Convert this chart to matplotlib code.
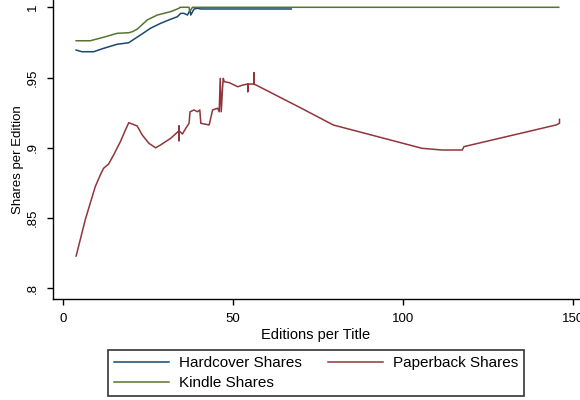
import matplotlib
matplotlib.use("Agg")
import matplotlib.pyplot as plt

plt.rcParams["font.family"] = ["Liberation Sans", "DejaVu Sans"]

# Hardcover shares per edition vs editions per title
hard_x = [3.93, 5.62, 9.05, 12.0, 15.97, 19.4, 20.88, 22.86, 25.81, 28.77,
          31.72, 33.71, 34.68, 35.66, 36.66, 37.43, 37.64, 38.62, 39.62, 40.6, 67.2]
hard_y = [0.9696, 0.9684, 0.9684, 0.9708, 0.9737, 0.9748, 0.9772, 0.9803, 0.9851, 0.9886,
          0.9915, 0.9933, 0.9957, 0.9957, 0.9945, 0.9981, 0.9945, 0.9988, 0.9993, 0.9988, 0.9988]

# Kindle shares per edition
kindle_x = [3.93, 8.07, 12.0, 15.97, 19.4, 20.4, 21.88, 24.84, 27.79, 31.72,
            34.18, 34.48, 37.14, 37.34, 38.14, 145.86]
kindle_y = [0.9762, 0.9762, 0.9787, 0.9815, 0.9819, 0.9826, 0.9844, 0.9910, 0.9945, 0.9969,
            0.9993, 1.0, 1.0, 0.9969, 1.0, 1.0]

# Paperback shares per edition
paper_x = [3.93, 5.12, 6.59, 8.07, 9.55, 11.03, 12.0, 13.48, 14.96, 16.94,
           18.42, 19.4, 20.4, 21.88, 23.36, 25.31, 27.29, 28.77, 31.72, 34.18,
           34.18, 34.18, 34.18, 35.19, 36.16, 37.14, 37.43, 38.62, 39.62, 40.3,
           40.6, 43.05, 44.06, 45.54, 46.0, 46.3, 46.6, 47.01, 47.2, 47.49,
           48.97, 51.45, 52.93, 54.41, 54.41, 54.41, 56.18, 56.18, 56.18, 56.86,
           70.17, 79.54, 105.65, 111.56, 117.48, 117.98, 145.06, 146.07, 146.07]
paper_y = [0.8231, 0.8345, 0.8487, 0.8606, 0.8724, 0.8807, 0.8855, 0.8885, 0.8950, 0.9044,
           0.9127, 0.9179, 0.9170, 0.9156, 0.9092, 0.9033, 0.9001, 0.9021, 0.9068, 0.9122,
           0.9156, 0.9051, 0.9122, 0.9099, 0.9139, 0.9175, 0.9257, 0.9270, 0.9257, 0.9270,
           0.9175, 0.9163, 0.9270, 0.9282, 0.9257, 0.9495, 0.9257, 0.9435, 0.9495, 0.9471,
           0.9464, 0.9435, 0.9447, 0.9454, 0.9400, 0.9454, 0.9454, 0.9535, 0.9454, 0.9447,
           0.9282, 0.9163, 0.8997, 0.8985, 0.8985, 0.9009, 0.9163, 0.9175, 0.9203]

y_ticks = [0.8, 0.85, 0.9, 0.95, 1.0]
y_tick_labels = [".8", ".85", ".9", ".95", "1"]
x_ticks = [0, 50, 100, 150]
x_tick_labels = ["0", "50", "100", "150"]

NAVY = "#1a476f"
MAROON = "#90353b"
FOREST = "#55752f"

fig = plt.figure(figsize=(5.8, 4.0), dpi=100)
W, H = 580, 400
ax = fig.add_axes([53 / W, 1 - 299 / H, (W - 53) / W, 299 / H])

lw = 1.1
h_hard, = ax.plot(hard_x, hard_y, color=NAVY, lw=lw, label="Hardcover Shares")
h_paper, = ax.plot(paper_x, paper_y, color=MAROON, lw=lw, label="Paperback Shares")
h_kind, = ax.plot(kindle_x, kindle_y, color=FOREST, lw=lw, label="Kindle Shares")

ax.set_xlim(-2.87, 152.1)
ax.set_ylim(0.79253, 1.00519)

for s in ("top", "right"):
    ax.spines[s].set_visible(False)
for s in ("left", "bottom"):
    ax.spines[s].set_linewidth(1.0)
    ax.spines[s].set_color("black")

ax.set_yticks(y_ticks)
ax.set_yticklabels(y_tick_labels, rotation=90, va="center", fontsize=9.5)
ax.set_xticks(x_ticks)
ax.set_xticklabels(x_tick_labels, fontsize=9.5)
ax.tick_params(direction="out", length=4, width=1.0, color="black", pad=6)

ax.set_xlabel("Editions per Title", fontsize=10.5)
ax.set_ylabel("Shares per Edition", fontsize=9.5)
ax.xaxis.set_label_coords((316 - 53) / (W - 53), (299 - 328) / 299)
ax.yaxis.set_label_coords((24 - 53) / (W - 53), (299 - 160) / 299)

leg = fig.legend([h_hard, h_kind, h_paper],
                 ["Hardcover Shares", "Kindle Shares", "Paperback Shares"],
                 ncol=2, loc="center", bbox_to_anchor=(316 / W, 1 - 373 / H),
                 fontsize=11, frameon=True, fancybox=False, shadow=False,
                 handlelength=3.6, handletextpad=0.65, columnspacing=1.75,
                 labelspacing=0.38, borderpad=0.38, borderaxespad=0)
leg.get_frame().set_edgecolor("black")
leg.get_frame().set_linewidth(1.2)

fig.savefig("out.png", dpi=100)
